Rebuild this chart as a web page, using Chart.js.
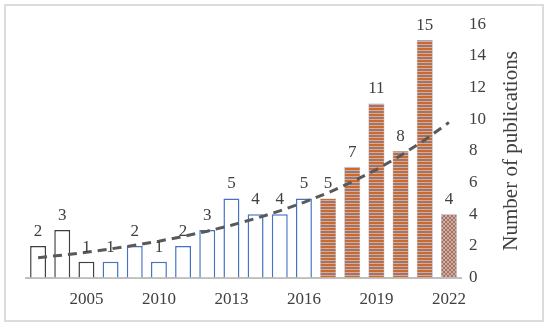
<!DOCTYPE html>
<html><head><meta charset="utf-8">
<script src="https://cdn.jsdelivr.net/npm/chart.js@4"></script>
<style>
html,body{margin:0;padding:0;background:#fff;}
#wrap{position:absolute;left:4px;top:4px;width:540px;height:318px;border:2px solid #dcdcdc;box-sizing:border-box;}
canvas{display:block;}
</style></head><body>
<div id="wrap"><canvas id="c" width="536" height="314"></canvas></div>
<script>
const years = ['2002','2003','2005','2007','2008','2010','2011','2012','2013','2014','2015','2016','2017','2018','2019','2020','2021','2022'];
const publications = [2,3,1,1,2,1,2,3,5,4,4,5,5,7,11,8,15,4];
const trend = [1.26,1.42,1.6,1.81,2.04,2.3,2.6,2.93,3.31,3.73,4.21,4.75,5.36,6.05,6.82,7.7,8.69,9.8];
const yTicks = [0,2,4,6,8,10,12,14,16];
const yTitle = 'Number of publications';
const barStyle = ['gray','gray','gray','blue','blue','blue','blue','blue','blue','blue','blue','blue','stripe','stripe','stripe','stripe','stripe','cross'];

function stripePattern(){
  const c=document.createElement('canvas');c.width=4;c.height=3;
  const x=c.getContext('2d');
  x.fillStyle='#cc6a2c';x.fillRect(0,0,4,2);
  x.fillStyle='#a9b6dc';x.fillRect(0,2,4,1);
  return x.createPattern(c,'repeat');
}
function crossPattern(){
  const c=document.createElement('canvas');c.width=4;c.height=4;
  const x=c.getContext('2d');
  x.fillStyle='#a9b6dc';x.fillRect(0,0,4,4);
  x.fillStyle='#cc6a2c';
  x.fillRect(0,0,1,1);x.fillRect(1,1,1,1);x.fillRect(2,2,1,1);x.fillRect(3,3,1,1);
  x.fillRect(3,0,1,1);x.fillRect(2,1,1,1);x.fillRect(1,2,1,1);x.fillRect(0,3,1,1);
  return x.createPattern(c,'repeat');
}
const sp=stripePattern(), cp=crossPattern();
const bg = barStyle.map(s=> s==='stripe'?sp : s==='cross'?cp : '#ffffff');
const bc = barStyle.map(s=> s==='gray'?'#404040' : s==='blue'?'#4472c4' : '#8e9fd0');
const bw = barStyle.map(s=> (s==='gray'||s==='blue')?1.5:0.5);
const FONT='"Liberation Serif", serif';

const labelPlugin={id:'lbl',afterDatasetsDraw(chart){
  const ctx=chart.ctx;const meta=chart.getDatasetMeta(1);
  ctx.save();ctx.font='17px '+FONT;ctx.fillStyle='#404040';
  ctx.textAlign='center';ctx.textBaseline='bottom';
  meta.data.forEach((b,i)=>{ctx.fillText(String(publications[i]),b.x,b.y-6);});
  ctx.restore();
  // y axis title, reading bottom-to-top
  const a=chart.chartArea;
  ctx.save();ctx.font='21px '+FONT;ctx.fillStyle='#404040';
  ctx.translate(505,(a.top+a.bottom)/2);ctx.rotate(-Math.PI/2);
  ctx.textAlign='center';ctx.textBaseline='middle';
  ctx.fillText(yTitle,0,0);ctx.restore();
}};

new Chart(document.getElementById('c'),{
  data:{labels:years,datasets:[
    {type:'line',data:trend,borderColor:'#595959',borderWidth:3,borderDash:[9,6],pointRadius:0,fill:false,order:0},
    {type:'bar',data:publications,backgroundColor:bg,borderColor:bc,borderWidth:bw,barPercentage:0.66,categoryPercentage:1,order:1}
  ]},
  options:{responsive:false,animation:false,
    layout:{padding:{left:20,top:7,right:48,bottom:-2}},
    plugins:{legend:{display:false},tooltip:{enabled:false}},
    scales:{
      x:{grid:{display:false,drawTicks:false},border:{color:'#bfbfbf',width:2},
        ticks:{autoSkip:false,maxRotation:0,padding:12,color:'#404040',font:{family:FONT,size:17},
          callback:(v,i)=> i%3===2?years[i]:''}},
      y:{position:'right',min:0,max:16,grid:{display:false,drawTicks:false},border:{display:false},
        afterBuildTicks:(s)=>{s.ticks=yTicks.map(v=>({value:v}));},
        ticks:{padding:8,color:'#404040',font:{family:FONT,size:17}}}
    }
  },
  plugins:[labelPlugin]
});
</script></body></html>
